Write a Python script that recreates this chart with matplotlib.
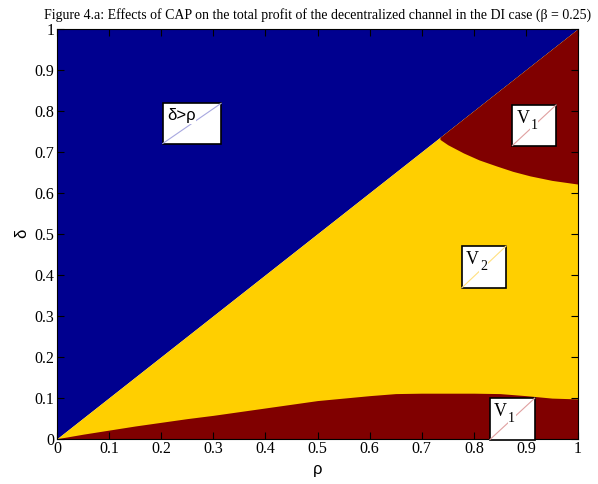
import numpy as np
import matplotlib.pyplot as plt
from matplotlib.patches import Rectangle

plt.rcParams.update({
    "font.family": "Liberation Serif",
})

# region boundaries
# lower V1 region: 0 < delta < delta_low(rho)
rho_low = [0.0, 0.05, 0.1, 0.15, 0.2, 0.25, 0.3, 0.35, 0.4, 0.45, 0.5,
           0.55, 0.6, 0.65, 0.7, 0.75, 0.8, 0.85, 0.9, 0.95, 1.0]
delta_low = [0.0, 0.011, 0.021, 0.031, 0.040, 0.049, 0.057, 0.066, 0.075, 0.084, 0.093,
             0.099, 0.105, 0.110, 0.111, 0.111, 0.111, 0.110, 0.105, 0.099, 0.097]

# upper V1 region: delta_up(rho) < delta < rho
rho_up = [0.735, 0.75, 0.78, 0.81, 0.844, 0.875, 0.908, 0.95, 1.0]
delta_up = [0.730, 0.717, 0.697, 0.680, 0.665, 0.652, 0.641, 0.630, 0.621]

ticks = [0, 0.1, 0.2, 0.3, 0.4, 0.5, 0.6, 0.7, 0.8, 0.9, 1]
tick_labels = ["0", "0.1", "0.2", "0.3", "0.4", "0.5", "0.6", "0.7", "0.8", "0.9", "1"]

blue = "#00008f"
yellow = "#ffcf00"
red = "#800000"

fig = plt.figure(figsize=(5.98, 4.84), dpi=100)
ax = fig.add_axes([0.0953, 0.0936, 0.8713, 0.8471])

# delta > rho
ax.fill_between([0, 1], [0, 1], [1, 1], color=blue, lw=0)
# V2 (under the diagonal), V1 drawn on top
ax.fill_between([0, 1], [0, 0], [0, 1], color=yellow, lw=0)
ax.fill_between(rho_low, 0, delta_low, color=red, lw=0)
ax.fill_between(rho_up, delta_up, rho_up, color=red, lw=0)

ax.set_xlim(0, 1)
ax.set_ylim(0, 1)
ax.set_xticks(ticks)
ax.set_xticklabels(tick_labels)
ax.set_yticks(ticks)
ax.set_yticklabels(tick_labels)
ax.tick_params(direction="in", top=True, right=True, length=5, width=0.8,
               labelsize=11.5, pad=2)
ax.set_xlabel("ρ", family="Liberation Sans", fontsize=12, labelpad=3)
ax.set_ylabel("δ", family="Liberation Sans", fontsize=12, labelpad=4)
ax.set_title("Figure 4.a: Effects of CAP on the total profit of the decentralized "
             "channel in the DI case (β = 0.25)", fontsize=10, pad=7)


def label_box(x0, y0, x1, y1, text, line_color, sub=None,
              family="Liberation Serif", size=13):
    ax.add_patch(Rectangle((x0, y0), x1 - x0, y1 - y0, facecolor="white",
                           edgecolor="black", lw=1.2, zorder=5, clip_on=False))
    ax.plot([x0, x1], [y0, y1], color=line_color, lw=0.8, zorder=6, clip_on=False)
    ax.text(x0 + 0.008, y1 - 0.012, text, ha="left", va="top", fontsize=size,
            family=family, zorder=7,
            bbox=dict(facecolor="white", edgecolor="none", pad=0.5))
    if sub is not None:
        ax.text(x0 + 0.035, y1 - 0.034, sub, ha="left", va="top", fontsize=10,
                family=family, zorder=7,
                bbox=dict(facecolor="white", edgecolor="none", pad=0.5))


label_box(0.203, 0.720, 0.315, 0.818, "δ>ρ", "#a8a8e0",
          family="Liberation Sans", size=12)
label_box(0.874, 0.715, 0.958, 0.814, "V", "#e0a0a0", sub="1")
label_box(0.777, 0.368, 0.862, 0.470, "V", "#ffe080", sub="2")
label_box(0.831, -0.002, 0.917, 0.099, "V", "#e0a0a0", sub="1")

fig.savefig("out.png", dpi=100)
